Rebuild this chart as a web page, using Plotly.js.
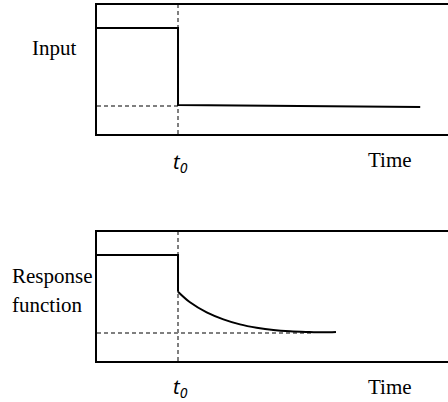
<!DOCTYPE html>
<html>
<head>
<meta charset="utf-8">
<script src="https://cdn.plot.ly/plotly-3.0.1.min.js"></script>
<style>html,body{margin:0;padding:0;background:#fff;}#chart{width:448px;height:402px;}</style>
</head>
<body>
<div id="chart"></div>
<script>
// ---- data (time units: t0 = 1) ----
const t0 = 1;
const xMax = 4.333;
// Input signal: step down at t0
const inputX = [0, 1, 1, 3.99];
const inputY = [0.822, 0.822, 0.225, 0.209];
const inputBase = 0.217;
// Response function: step then decay
const respStepX = [0, 1, 1];
const respStepY = [0.822, 0.822, 0.537];
const respCurveX = [1.0, 1.148, 1.354, 1.56, 1.765, 1.971, 2.177, 2.383, 2.588, 2.794, 2.95];
const respCurveY = [0.537, 0.455, 0.377, 0.323, 0.284, 0.258, 0.240, 0.230, 0.225, 0.222, 0.225];
const respBase = 0.217;
const respBaseEnd = 2.67;
// labels
const inputLabel = "Input";
const respLabel = ["Response", "function"];
const timeLabel = "Time";
const t0Label = "<i>t<sub>0</sub></i>";

const W = 448, H = 402;
const L = 97, R = 0, T = 5, B = 41;
const pw = W - L - R, ph = H - T - B;
const px = v => (v - L) / pw;          // pixel x -> paper
const py = v => (H - B - v) / ph;      // pixel y -> paper

const black = {color: '#000', width: 2};
const dash = {color: '#7f7f7f', width: 2, dash: '4px,3px'};

const traces = [
  // top panel
  {x: [t0, t0], y: [0, 1], xaxis: 'x', yaxis: 'y', mode: 'lines', line: dash},
  {x: [0, t0], y: [inputBase, inputBase], xaxis: 'x', yaxis: 'y', mode: 'lines', line: dash},
  {x: inputX, y: inputY, xaxis: 'x', yaxis: 'y', mode: 'lines', line: black},
  // bottom panel
  {x: [t0, t0], y: [0, 1], xaxis: 'x2', yaxis: 'y2', mode: 'lines', line: dash},
  {x: [0, respBaseEnd], y: [respBase, respBase], xaxis: 'x2', yaxis: 'y2', mode: 'lines', line: dash},
  {x: respStepX, y: respStepY, xaxis: 'x2', yaxis: 'y2', mode: 'lines', line: black},
  {x: respCurveX, y: respCurveY, xaxis: 'x2', yaxis: 'y2', mode: 'lines', line: Object.assign({shape: 'spline'}, black)}
];

const xa = {range: [0, xMax], showline: true, mirror: true, linecolor: '#000', linewidth: 2,
  showgrid: false, zeroline: false, showticklabels: false, ticks: '', fixedrange: true};
const ya = {range: [0, 1], showline: true, mirror: false, linecolor: '#000', linewidth: 2,
  showgrid: false, zeroline: false, showticklabels: false, ticks: '', fixedrange: true};

const serif = {family: 'Liberation Serif, Times New Roman, serif', size: 21, color: '#000'};
const sans = {family: 'Noto Sans, DejaVu Sans, sans-serif', size: 20, color: '#000'};

function ann(text, x, y, xanchor, font) {
  return {text: text, xref: 'paper', yref: 'paper', x: px(x), y: py(y),
    xanchor: xanchor, yanchor: 'middle', showarrow: false, font: font, align: 'left'};
}

const layout = {
  width: W, height: H,
  margin: {l: L, r: R, t: T, b: B},
  paper_bgcolor: '#fff', plot_bgcolor: '#fff',
  showlegend: false,
  xaxis: Object.assign({}, xa, {anchor: 'y', domain: [0, 1]}),
  yaxis: Object.assign({}, ya, {anchor: 'x', domain: [py(134), 1]}),
  xaxis2: Object.assign({}, xa, {anchor: 'y2', domain: [0, 1]}),
  yaxis2: Object.assign({}, ya, {anchor: 'x2', domain: [0, py(232)]}),
  annotations: [
    ann(inputLabel, 53.5, 48, 'center', serif),
    ann(respLabel[0], 10, 276, 'left', serif),
    ann(respLabel[1], 10, 305, 'left', serif),
    ann(t0Label, 180, 162, 'center', sans),
    ann(timeLabel, 390, 160, 'center', serif),
    ann(t0Label, 180, 387, 'center', sans),
    ann(timeLabel, 390, 387, 'center', serif)
  ]
};

Plotly.newPlot('chart', traces, layout, {displayModeBar: false, staticPlot: true});
</script>
</body>
</html>
